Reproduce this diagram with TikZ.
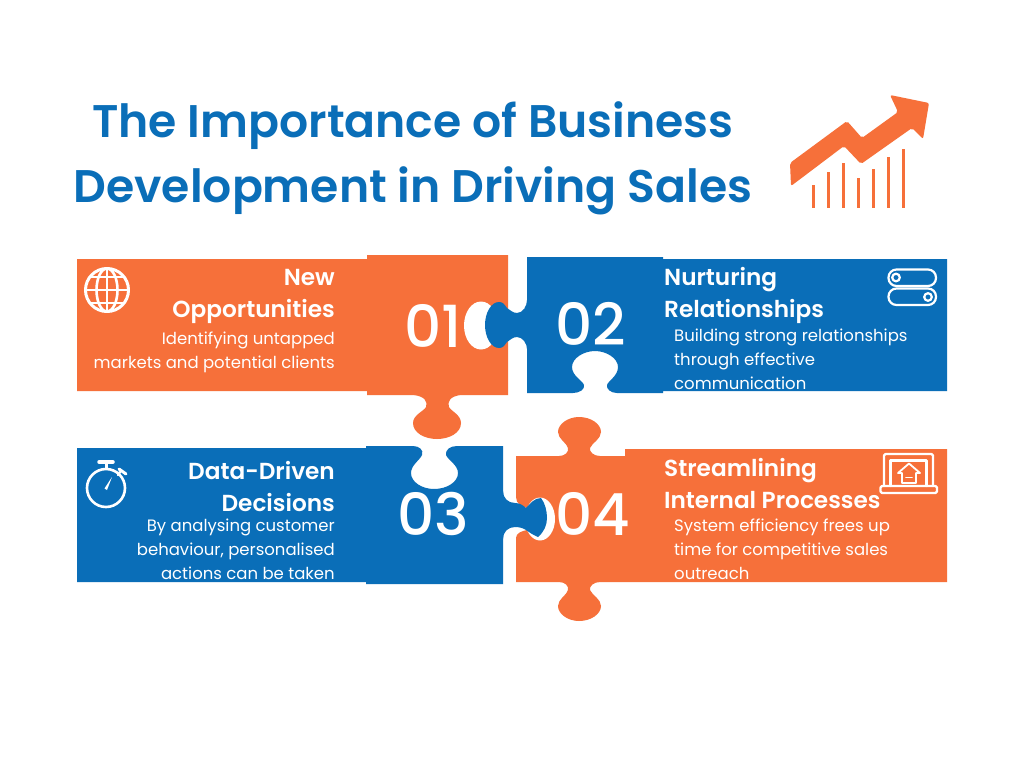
\documentclass[tikz,border=0pt]{standalone}
\usepackage{fontspec}
\setmainfont{Poppins}
\newfontfamily\headfont{Poppins SemiBold}
\newfontfamily\numfont{Poppins Medium}
\definecolor{sunset}{HTML}{F6703A}
\definecolor{ocean}{HTML}{0A6EB8}
\tikzset{
  head/.style={text=white,font=\headfont\fontsize{23.2}{32}\selectfont,inner sep=0pt},
  body/.style={text=white,font=\fontsize{16.5}{24}\selectfont,inner sep=0pt},
  num/.style={text=white,font=\numfont\fontsize{58}{58}\selectfont,inner sep=0pt},
  icon/.style={draw=white,line width=2.2pt,line cap=round,line join=round},
}
\begin{document}
\begin{tikzpicture}[x=1pt,y=-1pt]
\useasboundingbox (0,0) rectangle (1024,768);
\fill[white] (0,0) rectangle (1024,768);

\node[text=ocean,font=\headfont\fontsize{45.7}{65}\selectfont,align=center,inner sep=0pt] (title) at (413,158)
  {The Importance of Business\\Development in Driving Sales};

\fill[sunset,rounded corners=2pt] (790,163) -- (847,121) -- (862,138) -- (898,112) -- (890,95) -- (929,103) -- (923,139) -- (912,128) -- (861,164) -- (844,146) -- (791,186) -- cycle;
\foreach \px/\py in {813/185,828/172,843/163,858/178,873/169,888/157,903/149}
  \draw[sunset,line width=3pt] (\px,\py) -- (\px,208);

\fill[sunset] (77,259) -- (367,259) -- (367,255) -- (508,255) -- (508,395) -- (461,395)
  .. controls (450,396) and (447,402) .. (449,407) .. controls (451,411) and (461,415) .. (461,423)
  .. controls (461,433) and (449,439) .. (437,439) .. controls (425,439) and (413,433) .. (413,423)
  .. controls (413,415) and (424,411) .. (426,407) .. controls (428,402) and (425,396) .. (413,395)
  -- (367,395) -- (367,391) -- (77,391) -- cycle;
\fill[white] (481,325.5) ellipse[x radius=17,y radius=24];

\fill[ocean] (527,257) -- (663,257) -- (663,259) -- (947,259) -- (947,391) -- (663,391) -- (663,393) -- (617,393)
  .. controls (611,393) and (606,389) .. (607,385) .. controls (608,381) and (618,376) .. (618,367)
  .. controls (618,358) and (606,351) .. (595,351) .. controls (584,351) and (572,358) .. (572,367)
  .. controls (572,376) and (583,381) .. (584,385) .. controls (585,389) and (580,393) .. (573,393)
  -- (527,393) -- (527,349) .. controls (527,344) and (523,337) .. (517,337)
  .. controls (513,337) and (510,340) .. (507,342) .. controls (504,346) and (503,348) .. (499,348)
  .. controls (491,348) and (485,337) .. (485,325) .. controls (485,313) and (491,302) .. (499,302)
  .. controls (503,302) and (504,304) .. (507,308) .. controls (510,310) and (513,313) .. (517,313)
  .. controls (523,313) and (527,306) .. (527,300) -- cycle;

\fill[ocean] (77,448) -- (366,448) -- (366,446) -- (413,446)
  .. controls (419,446) and (424,450) .. (422,455) .. controls (420,460) and (411,465) .. (411,473)
  .. controls (411,482) and (422,489) .. (434,489) .. controls (447,489) and (458,482) .. (458,473)
  .. controls (458,465) and (448,460) .. (446,455) .. controls (445,450) and (450,446) .. (457,446)
  -- (503,446) -- (503,584) -- (366,584) -- (366,582) -- (77,582) -- cycle;

\fill[sunset] (516,456) -- (559,456)
  .. controls (565,456) and (569,452) .. (568,448) .. controls (567,443) and (558,439) .. (558,432)
  .. controls (558,424) and (568,417) .. (579,417) .. controls (591,417) and (601,424) .. (601,432)
  .. controls (601,439) and (592,443) .. (590,448) .. controls (589,452) and (594,456) .. (600,456)
  -- (625,456) -- (625,449) -- (947,449) -- (947,582) -- (600,582)
  .. controls (594,582) and (589,586) .. (590,590) .. controls (592,595) and (601,599) .. (601,606)
  .. controls (601,614) and (591,621) .. (579,621) .. controls (568,621) and (558,614) .. (558,606)
  .. controls (558,599) and (567,595) .. (568,590) .. controls (569,586) and (565,582) .. (559,582)
  -- (516,582) -- (516,538) .. controls (516,533) and (522,531) .. (527,530)
  -- (527,508) .. controls (522,507) and (516,504) .. (516,497) -- cycle;
\fill[white] (540,519) ellipse[x radius=15,y radius=21.5];
\fill[ocean] (503,491) .. controls (503,498) and (508,503) .. (515,503)
  .. controls (519,503) and (523,505) .. (526,508) .. controls (530,504) and (534,498) .. (541,498)
  .. controls (545,503) and (547,511) .. (547,518) .. controls (547,525) and (544,532) .. (538,537)
  .. controls (533,535) and (529,532) .. (526,530) .. controls (523,528) and (519,527) .. (515,527)
  .. controls (508,527) and (503,532) .. (503,539) -- cycle;

\node[num] (numa) at (433,326) {01};
\node[num] (numb) at (591,324) {02};
\node[num] (numc) at (433,514) {03};
\node[num] (numd) at (593,514) {04};

\node[head,anchor=north east,align=right] (heada) at (335,269) {New\\Opportunities};
\node[body,anchor=north east,align=right] (bodya) at (335,332) {Identifying untapped\\markets and potential clients};
\node[head,anchor=north west,align=left] (headb) at (664,267) {Nurturing\\Relationships};
\node[body,anchor=north west,align=left] (bodyb) at (674,329) {Building strong relationships\\through effective\\communication};
\node[head,anchor=north east,align=right] (headc) at (335,461) {Data-Driven\\Decisions};
\node[body,anchor=north east,align=right] (bodyc) at (335,519) {By analysing customer\\behaviour, personalised\\actions can be taken};
\node[head,anchor=north west,align=left] (headd) at (664,458) {Streamlining\\Internal Processes};
\node[body,anchor=north west,align=left] (bodyd) at (674,519) {System efficiency frees up\\time for competitive sales\\outreach};

\draw[icon,line width=3pt] (107,290) circle[radius=21.5];
\draw[icon,line width=2.6pt] (107,290) ellipse[x radius=10.5,y radius=21.5];
\draw[icon,line width=2.6pt] (107,268.5) -- (107,311.5);
\draw[icon,line width=2.6pt] (85.5,290) -- (128.5,290);
\draw[icon,line width=2.6pt] (90,277) -- (124,277);
\draw[icon,line width=2.6pt] (90,303) -- (124,303);

\draw[icon,line width=2.6pt] (106,488) circle[radius=19];
\draw[icon,line width=3.5pt] (99,462) -- (113,462);
\draw[icon,line width=3pt] (106,462) -- (106,468);
\draw[icon,line width=3pt] (119,469) -- (126,474);
\draw[icon,line width=2.4pt] (120,472) -- (118,475);
\fill[white] (104.5,488.5) -- (112,477) -- (107,490) -- cycle;

\draw[icon,rounded corners=8pt] (888.5,269.5) rectangle (936,286);
\draw[icon,rounded corners=8pt] (888.5,288.5) rectangle (936,305);
\draw[icon] (896,277.5) circle[radius=3.8];
\draw[icon] (928,297) circle[radius=3.8];

\draw[icon,rounded corners=1.5pt] (884,486) -- (884,454) -- (933,454) -- (933,486);
\draw[icon] (890.5,486) -- (890.5,460.5) -- (926.5,460.5) -- (926.5,486);
\draw[icon,rounded corners=1.5pt] (880.5,486) rectangle (937,493);
\draw[icon,line width=1.8pt] (898,473) -- (909,463.5) -- (920,473) -- (916,473) -- (916,483) -- (902,483) -- (902,473) -- cycle;
\draw[icon,line width=1.6pt] (906,477.5) -- (912,477.5);
\end{tikzpicture}
\end{document}
